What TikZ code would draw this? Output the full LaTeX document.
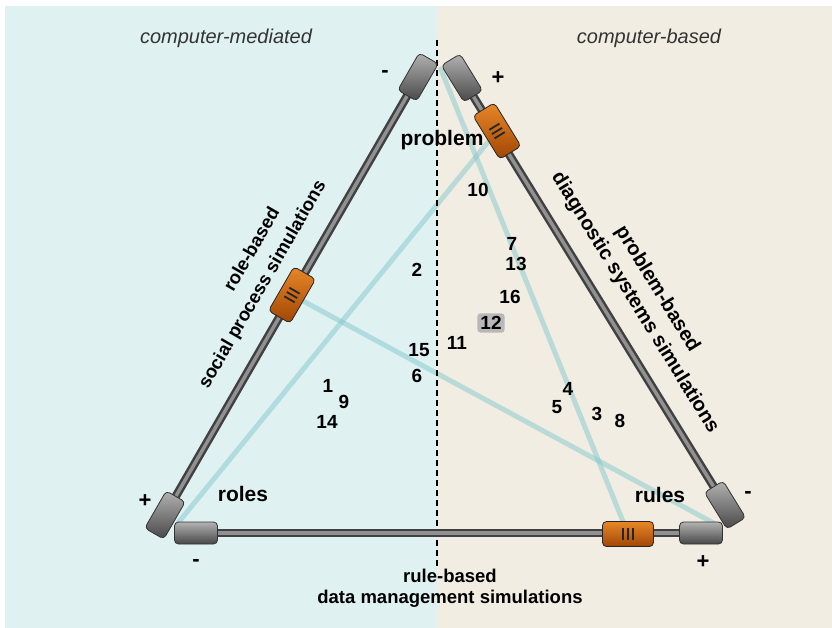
\documentclass[tikz,border=0pt]{standalone}
\usepackage{fontspec}
\setmainfont{Liberation Sans}
\usetikzlibrary{positioning}
\definecolor{medbg}{RGB}{224,241,242}
\definecolor{basebg}{RGB}{242,237,226}
\definecolor{linkcol}{RGB}{130,200,205}
\definecolor{rodout}{RGB}{65,65,65}
\definecolor{rodin}{RGB}{145,145,145}
\definecolor{sliderhi}{RGB}{232,135,40}
\definecolor{sliderlo}{RGB}{160,70,5}

\begin{document}
\begin{tikzpicture}[x=1pt,y=1pt,
		num/.style={font=\bfseries\fontsize{19}{21}\selectfont},
		lbl/.style={font=\bfseries\fontsize{21}{23}\selectfont},
		side/.style={align=center,font=\bfseries\fontsize{18.5}{21}\selectfont},
		head/.style={font=\itshape\fontsize{20}{22}\selectfont,text=black!80},
		sign/.style={font=\bfseries\fontsize{22}{22}\selectfont},
		link/.style={draw=linkcol,opacity=0.5,line width=5},
		rod/.style={draw=rodout,line width=2.5,double=rodin,double distance=3.5},
		handle/.style={draw=black!80,line width=0.8,rounded corners=4,minimum width=43,minimum height=22,top color=black!30,bottom color=black!72},
		slider/.style={draw=black!85,line width=0.8,rounded corners=4,minimum width=51,minimum height=25,top color=sliderhi,bottom color=sliderlo},
		bars/.style={draw=black!85,line width=1.8}]
		\tikzstyle{every node}+=[inner sep=0pt]
		\useasboundingbox (0,0) rectangle (832,-628);
		\fill [medbg] (5,-6) rectangle (437,-628);
		\fill [basebg] (437,-6) rectangle (832,-628);
		\node [head] (mediated) at (226,-38) {computer-mediated};
		\node [head] (based) at (649,-38) {computer-based};
		\coordinate (apex) at (440,-67);
		\coordinate (cornerL) at (178,-523);
		\coordinate (cornerR) at (719,-526);
		\coordinate (hLT) at (418,-77);
		\coordinate (hLB) at (165,-515);
		\coordinate (hRT) at (462,-78);
		\coordinate (hRB) at (725,-505);
		\coordinate (hBL) at (196,-533);
		\coordinate (hBR) at (701,-533);
		\coordinate (sldL) at (292,-295);
		\coordinate (sldR) at (497,-131);
		\coordinate (sldB) at (628,-534);
		\coordinate (dtop) at (437,-40);
		\coordinate (dbot) at (437,-566);
		\draw [link] (sldL) -- (cornerR);
		\draw [link] (sldR) -- (cornerL);
		\draw [link] (sldB) -- (apex);
		\draw [black, dashed, line width=1.3, dash pattern=on 6pt off 4pt] (dtop) -- (dbot);
		\draw [rod] (hLT) -- (hLB);
		\draw [rod] (hRT) -- (hRB);
		\draw [rod] (hBL) -- (hBR);
		\node [lbl] (problem) at (442,-140) {problem};
		\node [lbl] (roles) at (243,-494) {roles};
		\node [lbl] (rules) at (660,-495) {rules};
		\foreach \h/\a in {LT/60,LB/60,RT/-58.4,RB/-58.4,BL/0,BR/0}
			\node [handle, rotate=\a] (handle\h) at (h\h) {};
		\foreach \s/\a in {L/60,R/-58.4,B/0} {
			\node [slider, rotate=\a] (slider\s) at (sld\s) {};
			\begin{scope}[shift={(sld\s)}, rotate=\a]
				\foreach \d in {-5,0,5}
					\draw [bars] (\d,-6) -- (\d,6);
			\end{scope}
		}
		\node [sign] (minusT) at (385,-74) {-};
		\node [sign] (plusT) at (498,-78) {+};
		\node [sign] (plusL) at (145,-501) {+};
		\node [sign] (minusL) at (196,-563) {-};
		\node [sign] (plusR) at (703,-562) {+};
		\node [sign] (minusR) at (748,-495) {-};
		\node [side, rotate=60] (roletop) at (251,-249) {role-based};
		\node [side, rotate=60] (rolebot) at (263,-285) {social process simulations};
		\node [side, rotate=-58.4, font=\bfseries\fontsize{20}{26}\selectfont] (probside) at (646,-296) {problem-based\\diagnostic systems simulations};
		\node [side] (ruleside) at (450,-588) {rule-based\\data management simulations};
		\node [num, fill=black!28, rounded corners=3pt, inner sep=3pt] (n12) at (491,-323) {12};
		\foreach \n/\x/\y in {10/478/190, 7/512/244, 13/516/264, 2/417/270, 16/510/297,
			15/419/350, 11/457/343, 6/417/376, 1/328/386, 9/344/402, 14/327/422,
			4/568/389, 5/557/407, 3/597/414, 8/620/421}
			\node [num] (n\n) at (\x,-\y) {\n};
		\end{tikzpicture}
\end{document}
